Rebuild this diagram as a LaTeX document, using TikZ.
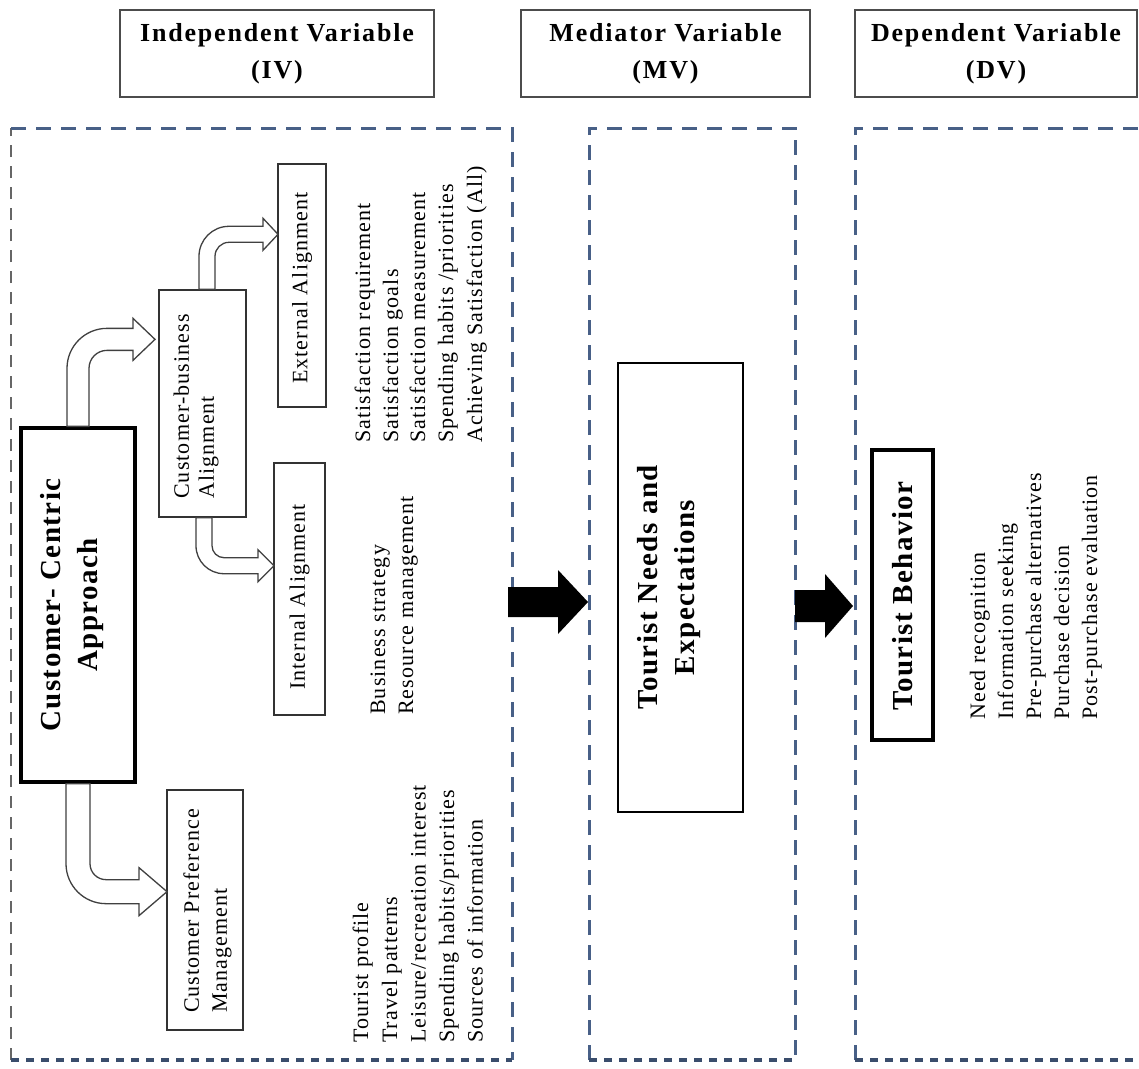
\documentclass[tikz,border=0pt]{standalone}
\usepackage{fontspec}
\setmainfont{Liberation Serif}
\newfontfamily\lsf[LetterSpace=5]{Liberation Serif}
\newfontfamily\hdf[LetterSpace=7]{Liberation Serif}
\usetikzlibrary{calc}
\newcommand\itemfont{\lsf\fontsize{22}{28}\selectfont}
\newcommand\boxfont{\lsf\fontsize{22}{25}\selectfont}
\newcommand\bigfont{\lsf\bfseries\fontsize{29}{37}\selectfont}
\newcommand\hdrfont{\hdf\bfseries\fontsize{26}{37}\selectfont}
\definecolor{dashc}{RGB}{72,96,135}
\begin{document}
\begin{tikzpicture}[x=1pt,y=-1pt,
  hdr/.style={draw=black!70, line width=1.4pt, fill=white, inner sep=0pt, align=center, font=\hdrfont},
  dbox/.style={draw=dashc, line width=3pt, dash pattern=on 15pt off 10pt},
  dboxbot/.style={draw=dashc!80!black, line width=4pt, dash pattern=on 8pt off 7pt},
  dboxthin/.style={draw=black!60, line width=1.3pt, dash pattern=on 12pt off 9pt},
  thinbox/.style={draw=black!80, line width=1.4pt, fill=white, inner sep=0pt},
  thickbox/.style={draw=black, line width=3.3pt, fill=white, inner sep=0pt},
  midbox/.style={draw=black, line width=2.8pt, fill=white, inner sep=0pt},
  hollow/.style={draw=black!75, line width=1.3pt, fill=white, line join=miter},
  blk/.style={fill=black},
  vtxt/.style={rotate=90, inner sep=0pt},
  itm/.style={rotate=90, anchor=base west, inner sep=0pt, font=\itemfont}]
\useasboundingbox (0,0) rectangle (1139,1068);
\clip (0,0) rectangle (1139,1068);
\fill[white] (0,0) rectangle (1139,1068);

% headers
\node[hdr, minimum width=314pt, minimum height=87pt] (ivh) at (277,53.5) {Independent Variable\\(IV)};
\node[hdr, minimum width=289pt, minimum height=87pt] (mvh) at (665.5,53.5) {Mediator Variable\\(MV)};
\node[hdr, minimum width=282pt, minimum height=87pt] (dvh) at (996,53.5) {Dependent Variable\\(DV)};

% dashed panels
\draw[dboxthin] (11,1060) -- (11,128);
\draw[dbox] (11,128) -- (512,128) -- (512,1060);
\draw[dboxbot] (11,1060) -- (512,1060);
\draw[dbox] (589,1060) -- (589,128) -- (795,128) -- (795,1060);
\draw[dboxbot] (589,1060) -- (795,1060);
\draw[dbox] (855,1060) -- (855,128) -- (1170,128);
\draw[dboxbot] (855,1060) -- (1170,1060);

% boxes
\node[thickbox, minimum width=114pt, minimum height=354pt] (cca) at (78,605) {};
\node[thinbox, minimum width=87pt, minimum height=227pt] (cba) at (202.5,403.5) {};
\node[thinbox, minimum width=48pt, minimum height=243pt] (ext) at (302,285.5) {};
\node[thinbox, minimum width=51pt, minimum height=252pt] (int) at (299.5,589) {};
\node[thinbox, minimum width=76pt, minimum height=240pt] (cpm) at (205,910) {};
\node[midbox, minimum width=125pt, minimum height=449pt] (tne) at (680.5,587.5) {};
\node[thickbox, minimum width=61pt, minimum height=290pt] (tb) at (902.5,595) {};

% hollow bent arrows
\draw[hollow] ([xshift=-11pt]cca.north) -- ++(0,-58)
  .. controls +(0,-22.08) and +(-22.08,0) .. ++(40,-40)
  -- ++(26,0) -- ++(0,-10) -- ++(22,21) -- ++(-22,21) -- ++(0,-10) -- ++(-26,0)
  .. controls +(-9.94,0) and +(0,-9.94) .. ++(-18,18)
  -- ++(0,58) -- cycle;
\draw[hollow] ([xshift=-3.5pt]cba.north) -- ++(0,-33)
  .. controls +(0,-16.56) and +(-16.56,0) .. ++(30,-30)
  -- ++(34,0) -- ++(0,-8) -- ++(15,16) -- ++(-15,16) -- ++(0,-8) -- ++(-34,0)
  .. controls +(-7.73,0) and +(0,-7.73) .. ++(-14,14)
  -- ++(0,33) -- cycle;
\draw[hollow] ([xshift=-6.5pt]cba.south) -- ++(0,28)
  .. controls +(0,15.46) and +(-15.46,0) .. ++(28,28)
  -- ++(34,0) -- ++(0,8) -- ++(16,-16) -- ++(-16,-16) -- ++(0,8) -- ++(-34,0)
  .. controls +(-6.62,0) and +(0,6.62) .. ++(-12,-12)
  -- ++(0,-28) -- cycle;
\draw[hollow] ([xshift=-12pt]cca.south) -- ++(0,80)
  .. controls +(0,22.08) and +(-22.08,0) .. ++(40,40)
  -- ++(33,0) -- ++(0,12) -- ++(28,-24) -- ++(-28,-24) -- ++(0,12) -- ++(-33,0)
  .. controls +(-8.83,0) and +(0,8.83) .. ++(-16,-16)
  -- ++(0,-80) -- cycle;

% solid arrows
\coordinate (a1) at (508,602);
\coordinate (a2) at (795,606);
\fill[blk] (a1) ++(0,-15) -- ++(50,0) -- ++(0,-17) -- ++(30,32) -- ++(-30,32) -- ++(0,-17) -- ++(-50,0) -- cycle;
\fill[blk] (a2) ++(0,-16) -- ++(30,0) -- ++(0,-16) -- ++(28,32) -- ++(-28,32) -- ++(0,-16) -- ++(-30,0) -- cycle;

% box texts
\node[vtxt, font=\bigfont, align=center] (ccat) at ($(cca.center)+(-6,0)$) {Customer- Centric\\Approach};
\node[vtxt, font=\boxfont, align=left] (cbat) at (196,406.5) {Customer-business\\Alignment};
\node[vtxt, font=\boxfont] (extt) at (302,288) {External Alignment};
\node[vtxt, font=\boxfont] (intt) at (299.5,597) {Internal Alignment};
\node[vtxt, font=\lsf\fontsize{22}{28}\selectfont, align=left] (cpmt) at (207.5,911) {Customer Preference\\Management};
\node[vtxt, font=\bigfont, align=center] (tnet) at ($(tne.center)+(-11,0)$) {Tourist Needs and\\Expectations};
\node[vtxt, font=\bigfont] (tbt) at ($(tb.center)+(0.5,1)$) {Tourist Behavior};

% lists
\node[itm] (s1) at (370,443) {Satisfaction requirement};
\node[itm] (s2) at (398,443) {Satisfaction goals};
\node[itm] (s3) at (425,443) {Satisfaction measurement};
\node[itm] (s4) at (453,443) {Spending habits /priorities};
\node[itm] (s5) at (482,443) {Achieving Satisfaction (All)};

\node[itm] (b1) at (385,715) {Business strategy};
\node[itm] (b2) at (413,715) {Resource management};

\node[itm] (t1) at (368,1043) {Tourist profile};
\node[itm] (t2) at (397,1043) {Travel patterns};
\node[itm] (t3) at (425.5,1043) {Leisure/recreation interest};
\node[itm] (t4) at (454,1043) {Spending habits/priorities};
\node[itm] (t5) at (482.5,1043) {Sources of information};

\node[itm] (d1) at (985,720) {Need recognition};
\node[itm] (d2) at (1013,720) {Information seeking};
\node[itm] (d3) at (1041,720) {Pre-purchase alternatives};
\node[itm] (d4) at (1069,720) {Purchase decision};
\node[itm] (d5) at (1097,720) {Post-purchase evaluation};
\end{tikzpicture}
\end{document}
